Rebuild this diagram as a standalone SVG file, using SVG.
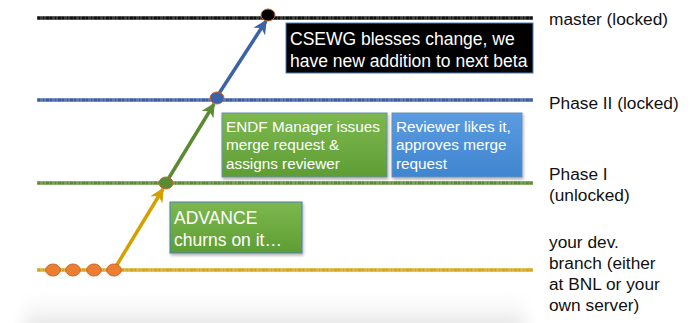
<svg xmlns="http://www.w3.org/2000/svg" width="693" height="323" viewBox="0 0 693 323">
<defs>
<style>
.branch{stroke-width:3.4;fill:none}
.tex{stroke-width:3.4;fill:none;stroke:#fff;stroke-opacity:0.18;stroke-dasharray:1 2 3 1 2 3}
.lbl{font-family:"Liberation Sans",Arial,sans-serif;font-size:17.3px;fill:#111}
.bt{font-family:"Liberation Sans",Arial,sans-serif;fill:#fff}
.arr{stroke-width:3.5;fill:none}
.node{stroke:#C8652A;stroke-width:1}
</style>
<linearGradient id="gGreen" x1="0" y1="0" x2="0" y2="1"><stop offset="0" stop-color="#7DB84F"/><stop offset="1" stop-color="#5E9D34"/></linearGradient>
<linearGradient id="gBlue" x1="0" y1="0" x2="0" y2="1"><stop offset="0" stop-color="#5B9BE0"/><stop offset="1" stop-color="#3F85D0"/></linearGradient>
<linearGradient id="gBg" x1="0" y1="0" x2="0" y2="1"><stop offset="0" stop-color="#fff" stop-opacity="0"/><stop offset="1" stop-color="#d4d4d4" stop-opacity="0.9"/></linearGradient>
<filter id="blur" x="-20%" y="-50%" width="140%" height="200%"><feGaussianBlur stdDeviation="8"/></filter>
<filter id="sh" x="-10%" y="-10%" width="125%" height="130%"><feDropShadow dx="1" dy="2" stdDeviation="1.5" flood-color="#000" flood-opacity="0.3"/></filter>
<marker id="mY" viewBox="0 0 10 10" refX="9" refY="5" markerWidth="4" markerHeight="4" orient="auto" markerUnits="strokeWidth"><path d="M0,0 L10,5 L0,10 L3,5 z" fill="#D4A000"/></marker>
<marker id="mG" viewBox="0 0 10 10" refX="9" refY="5" markerWidth="4" markerHeight="4" orient="auto" markerUnits="strokeWidth"><path d="M0,0 L10,5 L0,10 L3,5 z" fill="#5A8A32"/></marker>
<marker id="mB" viewBox="0 0 10 10" refX="9" refY="5" markerWidth="4" markerHeight="4" orient="auto" markerUnits="strokeWidth"><path d="M0,0 L10,5 L0,10 L3,5 z" fill="#3C62A8"/></marker>
</defs>
<rect x="0" y="0" width="693" height="323" fill="#fff"/>
<rect x="25" y="290" width="500" height="45" fill="url(#gBg)" filter="url(#blur)"/>

<g id="branches">
<line class="branch" x1="37" y1="18" x2="533" y2="18" stroke="#111"/>
<line class="tex" x1="37" y1="18" x2="533" y2="18"/>
<line class="branch" x1="37" y1="100" x2="533" y2="100" stroke="#3A5CA0"/>
<line class="tex" x1="37" y1="100" x2="533" y2="100"/>
<line class="branch" x1="37" y1="183" x2="533" y2="183" stroke="#5A8A35"/>
<line class="tex" x1="37" y1="183" x2="533" y2="183"/>
<line class="branch" x1="37" y1="270" x2="533" y2="270" stroke="#D4A519"/>
<line class="tex" x1="37" y1="270" x2="533" y2="270"/>
</g>

<g id="connectors">
<line class="arr" x1="115" y1="268" x2="163" y2="189" stroke="#D4A000" marker-end="url(#mY)"/>
<line class="arr" x1="167" y1="181" x2="214" y2="104" stroke="#5A8A32" marker-end="url(#mG)"/>
<line class="arr" x1="218" y1="95" x2="266" y2="21" stroke="#3C62A8" marker-end="url(#mB)"/>
</g>

<g id="dev-commits">
<ellipse class="node" cx="53" cy="270" rx="7.3" ry="6" fill="#ED7D31"/>
<ellipse class="node" cx="73" cy="270" rx="7.3" ry="6" fill="#ED7D31"/>
<ellipse class="node" cx="94" cy="270" rx="7.3" ry="6" fill="#ED7D31"/>
<ellipse class="node" cx="114" cy="270" rx="7.3" ry="6" fill="#ED7D31"/>
</g>
<g id="phase1-commit"><ellipse class="node" cx="166" cy="183" rx="7" ry="6" fill="#5A8A32"/></g>
<g id="phase2-commit"><ellipse class="node" cx="217" cy="98" rx="7" ry="6" fill="#3C62A8"/></g>
<g id="master-commit"><ellipse class="node" cx="268" cy="15" rx="7" ry="6" fill="#000"/></g>

<g id="csewg-box">
<rect x="286" y="23" width="247" height="50" fill="#000" stroke="#4A7EBB" stroke-width="1"/>
<text class="bt" x="290" y="45" font-size="17.5">CSEWG blesses change, we</text>
<text class="bt" x="290" y="67" font-size="17.5">have new addition to next beta</text>
</g>

<g id="endf-box">
<rect x="222" y="113" width="165" height="64" fill="url(#gGreen)" stroke="#6A8FB5" stroke-width="1" filter="url(#sh)"/>
<text class="bt" x="226" y="132" font-size="15.3">ENDF Manager issues</text>
<text class="bt" x="226" y="150" font-size="15.3">merge request &amp;</text>
<text class="bt" x="226" y="169" font-size="15.3">assigns reviewer</text>
</g>

<g id="reviewer-box">
<rect x="392" y="113" width="130" height="64" fill="url(#gBlue)" stroke="#6A8FB5" stroke-width="1" filter="url(#sh)"/>
<text class="bt" x="396" y="132" font-size="15.3">Reviewer likes it,</text>
<text class="bt" x="396" y="150" font-size="15.3">approves merge</text>
<text class="bt" x="396" y="169" font-size="15.3">request</text>
</g>

<g id="advance-box">
<rect x="170" y="202" width="132" height="51" fill="url(#gGreen)" stroke="#4A7EBB" stroke-width="1" filter="url(#sh)"/>
<text class="bt" x="174" y="224" font-size="17.5">ADVANCE</text>
<text class="bt" x="174" y="246" font-size="17.5">churns on it…</text>
</g>

<g id="labels">
<text class="lbl" x="549" y="25">master (locked)</text>
<text class="lbl" x="549" y="109">Phase II (locked)</text>
<text class="lbl" x="549" y="180">Phase I</text>
<text class="lbl" x="549" y="201">(unlocked)</text>
<text class="lbl" x="549" y="248">your dev.</text>
<text class="lbl" x="549" y="269">branch (either</text>
<text class="lbl" x="549" y="290">at BNL or your</text>
<text class="lbl" x="549" y="311">own server)</text>
</g>
</svg>
